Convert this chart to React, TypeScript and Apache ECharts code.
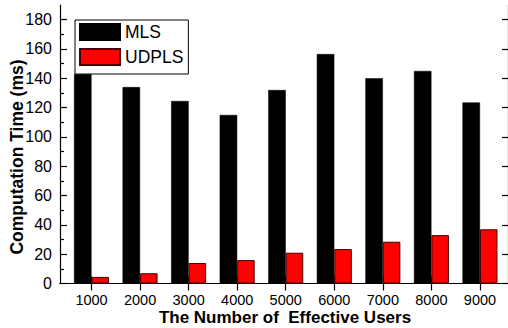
import React, { useEffect, useRef } from "react";
import * as echarts from "echarts";

const users = [1000, 2000, 3000, 4000, 5000, 6000, 7000, 8000, 9000];
const mlsTimes = [143, 134, 124.5, 115, 132, 156.5, 140, 145, 123.5];
const udplsTimes = [4.5, 7, 14, 16, 21, 23.5, 28.5, 33, 37];
const yMajorTicks = [0, 20, 40, 60, 80, 100, 120, 140, 160, 180];
const yMinorTicks = [10, 30, 50, 70, 90, 110, 130, 150, 170];

const FONT = "'Liberation Sans', Arial, Helvetica, sans-serif";

export default function App() {
  const ref = useRef<HTMLDivElement>(null);
  useEffect(() => {
    if (!ref.current) return;
    const chart = echarts.init(ref.current, null, { renderer: "svg" });
    const xMin = 351;
    const xMax = 9577;
    const yMin = 0;
    const yMax = 190;
    const lineStyle = { color: "#000", width: 1.2 };
    chart.setOption({
      animation: false,
      backgroundColor: "#fff",
      textStyle: { fontFamily: FONT },
      grid: { left: 60, right: -1, top: 5, bottom: 44.5, containLabel: false },
      legend: {
        orient: "vertical",
        left: 75,
        top: 20,
        padding: [3, 5, 8, 4],
        itemGap: 7,
        itemWidth: 40,
        itemHeight: 16,
        borderColor: "#000",
        borderWidth: 1,
        backgroundColor: "#fff",
        icon: "rect",
        z: 10,
        textStyle: { fontSize: 17.5, color: "#000", fontFamily: FONT, lineHeight: 16 },
        data: ["MLS", "UDPLS"],
      },
      xAxis: [
        {
          type: "value",
          position: "bottom",
          min: xMin,
          max: xMax,
          splitLine: { show: false },
          axisLine: { show: true, lineStyle },
          axisTick: { show: true, inside: true, length: 7, customValues: users, lineStyle },
          axisLabel: {
            customValues: users,
            formatter: (v: number) => String(v),
            fontSize: 14.5,
            lineHeight: 15,
            color: "#000",
            margin: 9,
            fontFamily: FONT,
          },
        },
        {
          type: "value",
          position: "top",
          min: xMin,
          max: xMax,
          splitLine: { show: false },
          axisLine: { show: true, lineStyle },
          axisTick: { show: true, inside: true, length: 7, customValues: users, lineStyle },
          axisLabel: { show: false },
        },
      ],
      yAxis: [
        {
          type: "value",
          position: "left",
          min: yMin,
          max: yMax,
          interval: 20,
          splitLine: { show: false },
          axisLine: { show: true, lineStyle },
          axisTick: { show: true, inside: true, length: 7, customValues: yMajorTicks, lineStyle },
          axisLabel: {
            customValues: yMajorTicks,
            formatter: (v: number) => String(v),
            fontSize: 16,
            color: "#000",
            margin: 8,
            fontFamily: FONT,
          },
        },
        {
          type: "value",
          position: "left",
          min: yMin,
          max: yMax,
          splitLine: { show: false },
          axisLine: { show: false },
          axisTick: { show: true, inside: true, length: 4, customValues: yMinorTicks, lineStyle },
          axisLabel: { show: false },
        },
        {
          type: "value",
          position: "right",
          min: yMin,
          max: yMax,
          splitLine: { show: false },
          axisLine: { show: true, lineStyle },
          axisTick: { show: true, inside: true, length: 6, customValues: yMajorTicks, lineStyle },
          axisLabel: { show: false },
        },
      ],
      series: [
        {
          name: "MLS",
          type: "bar",
          xAxisIndex: 0,
          yAxisIndex: 0,
          barWidth: 17.5,
          barGap: "0%",
          itemStyle: { color: "#000", borderColor: "#000", borderWidth: 0.5 },
          data: users.map((u, i) => [u, mlsTimes[i]]),
          z: 3,
        },
        {
          name: "UDPLS",
          type: "bar",
          xAxisIndex: 0,
          yAxisIndex: 0,
          barWidth: 17.5,
          barGap: "0%",
          itemStyle: { color: "#ff0000", borderColor: "#4a0000", borderWidth: 1 },
          data: users.map((u, i) => [u, udplsTimes[i]]),
          z: 3,
        },
      ],
      graphic: [
        {
          type: "text",
          x: 285,
          y: 317,
          style: {
            text: "The Number of  Effective Users",
            font: `bold 17px ${FONT}`,
            lineHeight: 15,
            fill: "#000",
            align: "center",
            verticalAlign: "middle",
          },
        },
        {
          type: "text",
          x: 17,
          y: 157,
          rotation: Math.PI / 2,
          style: {
            text: "Computation Time (ms)",
            font: `bold 17.5px ${FONT}`,
            fill: "#000",
            align: "center",
            verticalAlign: "middle",
          },
        },
      ],
    });
    return () => chart.dispose();
  }, []);
  return (
    <div
      ref={ref}
      style={{ position: "fixed", left: 0, top: 0, width: 508, height: 328 }}
    />
  );
}
